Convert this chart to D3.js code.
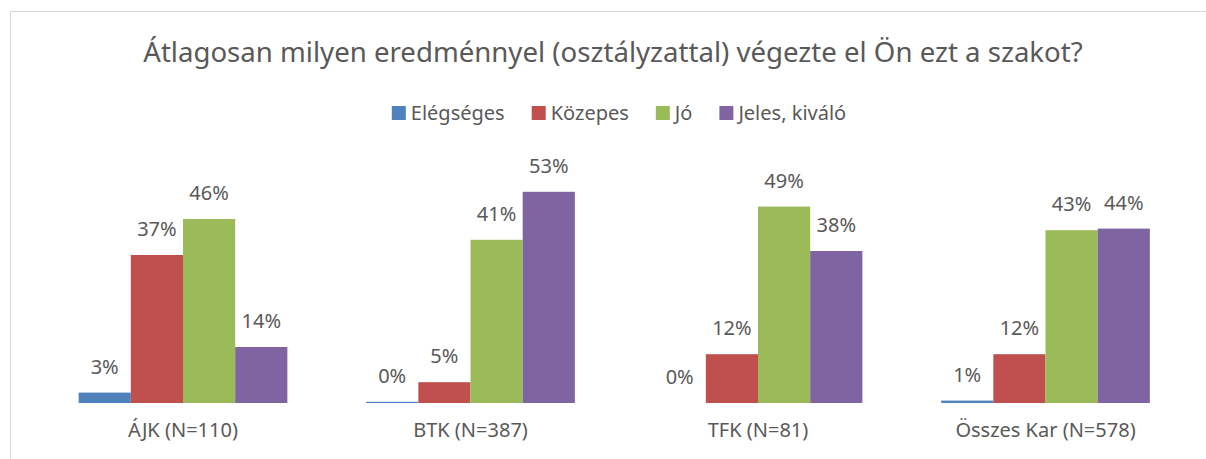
<!DOCTYPE html>
<html>
<head>
<meta charset="utf-8">
<script src="https://cdn.jsdelivr.net/npm/d3@7"></script>
<style>
  body { margin: 0; background: #fff; }
  text { font-family: "Noto Sans", "Open Sans", sans-serif; fill: #595959; }
</style>
</head>
<body>
<div id="chart"></div>
<script>
// Data
var categories = ["ÁJK (N=110)", "BTK (N=387)", "TFK (N=81)", "Összes Kar (N=578)"];
var seriesNames = ["Elégséges", "Közepes", "Jó", "Jeles, kiváló"];
var seriesColors = ["#4F81BD", "#C0504D", "#9BBB59", "#8064A2"];
// values in percent, one array per series (same order as categories)
var elegseges = [2.6, 0.3, 0, 0.6];
var kozepes = [37, 5.2, 12.2, 12.2];
var jo = [46, 40.8, 49.1, 43.2];
var jeles = [14, 52.8, 38, 43.6];
var seriesValues = [elegseges, kozepes, jo, jeles];
var yMax = 60;

// Dimensions
var width = 1206, height = 459;
var plot = {left: 39.25, right: 1189.25, top: 163, bottom: 403};

var svg = d3.select("#chart")
    .append("svg")
    .attr("width", width)
    .attr("height", height);

// Chart area border
svg.append("rect")
    .attr("x", 10.5)
    .attr("y", 11.5)
    .attr("width", width)
    .attr("height", height)
    .attr("fill", "none")
    .attr("stroke", "#d9d9d9")
    .attr("stroke-width", 1);

// Title
svg.append("text")
    .attr("x", 613)
    .attr("y", 62)
    .attr("text-anchor", "middle")
    .style("font-size", "27.6px")
    .text("Átlagosan milyen eredménnyel (osztályzattal) végezte el Ön ezt a szakot?");

// Scales
var x = d3.scaleBand()
    .domain(categories)
    .range([plot.left, plot.right])
    .paddingInner(0.274)
    .paddingOuter(0.137);

var xSub = d3.scaleBand()
    .domain(seriesNames)
    .range([0, x.bandwidth()]);

var y = d3.scaleLinear()
    .domain([0, yMax])
    .range([plot.bottom, plot.top]);

// Rows per category
var rows = categories.map(function (c, i) {
    return {
        cat: c,
        values: seriesNames.map(function (s, j) {
            return {key: s, value: seriesValues[j][i], color: seriesColors[j]};
        })
    };
});

var groups = svg.selectAll("g.layer")
    .data(rows)
    .enter()
    .append("g")
    .classed("layer", true)
    .attr("transform", function (d) {
        return "translate(" + x(d.cat) + ",0)";
    });

groups.selectAll("rect")
    .data(function (d) { return d.values; })
    .enter()
    .append("rect")
    .attr("x", function (d) { return xSub(d.key); })
    .attr("y", function (d) { return y(d.value); })
    .attr("width", xSub.bandwidth())
    .attr("height", function (d) { return y(0) - y(d.value); })
    .attr("fill", function (d) { return d.color; });

// Value labels
groups.selectAll("text.val")
    .data(function (d) { return d.values; })
    .enter()
    .append("text")
    .attr("class", "val")
    .attr("x", function (d) { return xSub(d.key) + xSub.bandwidth() / 2; })
    .attr("y", function (d) { return y(d.value) - 19; })
    .attr("text-anchor", "middle")
    .style("font-size", "20px")
    .text(function (d) { return Math.round(d.value) + "%"; });

// X axis (labels only)
var xAxis = svg.append("g")
    .attr("transform", "translate(0," + plot.bottom + ")")
    .call(d3.axisBottom(x).tickSize(0).tickPadding(20));

xAxis.select(".domain").remove();
xAxis.selectAll("text")
    .attr("fill", "#595959")
    .style("font-size", "20px")
    .style("font-family", "\"Noto Sans\", sans-serif");

// Legend
var legend = svg.append("g");
var lx = 0, gap = 27;
seriesNames.forEach(function (s, i) {
    var item = legend.append("g").attr("transform", "translate(" + lx + ",0)");
    item.append("rect")
        .attr("x", 0)
        .attr("y", 106)
        .attr("width", 14)
        .attr("height", 14)
        .attr("fill", seriesColors[i]);
    var t = item.append("text")
        .attr("x", 19)
        .attr("y", 120)
        .style("font-size", "20px")
        .text(s);
    lx += 19 + t.node().getComputedTextLength() + gap;
});
var legendWidth = lx - gap;
legend.attr("transform", "translate(" + (619 - legendWidth / 2) + ",0)");
</script>
</body>
</html>
